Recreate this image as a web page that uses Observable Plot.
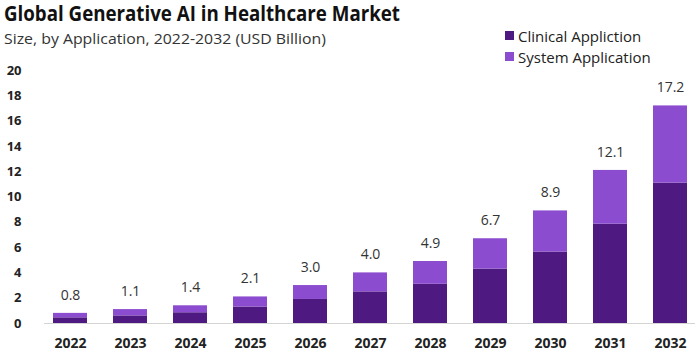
<!DOCTYPE html>
<html><head><meta charset="utf-8">
<script src="https://cdn.jsdelivr.net/npm/d3@7"></script>
<script src="https://cdn.jsdelivr.net/npm/@observablehq/plot@0.6"></script>
<style>
body{margin:0;background:#fff;width:698px;height:357px;overflow:hidden;position:relative;font-family:"Open Sans",sans-serif}
#title{position:absolute;left:4px;top:0px;font-weight:700;font-size:20.5px;line-height:27px;color:#111;white-space:nowrap;transform-origin:left center}
#subtitle{position:absolute;left:4px;top:28px;font-size:15px;line-height:20px;color:#333;white-space:nowrap;transform-origin:left center}
#legend{position:absolute;left:505px;top:25px;font-size:15px;color:#222}
.item{display:flex;align-items:center;height:21px;white-space:nowrap}
.sw{width:9px;height:9px;margin-right:4px;flex:none}
#chart{position:absolute;left:0;top:50px}
</style></head><body>
<div id="title">Global Generative AI in Healthcare Market</div>
<div id="subtitle">Size, by Application, 2022-2032 (USD Billion)</div>
<div id="legend"></div>
<div id="chart"></div>
<script>
const years = ["2022","2023","2024","2025","2026","2027","2028","2029","2030","2031","2032"];
const seriesNames = ["Clinical Appliction","System Application"];
const clinical = [0.45, 0.6, 0.85, 1.3, 1.9, 2.5, 3.1, 4.3, 5.65, 7.85, 11.1];
const system   = [0.35, 0.5, 0.55, 0.8, 1.1, 1.5, 1.8, 2.4, 3.25, 4.25, 6.1];
const totals   = [0.8, 1.1, 1.4, 2.1, 3.0, 4.0, 4.9, 6.7, 8.9, 12.1, 17.2];
const yTicks   = [0, 2, 4, 6, 8, 10, 12, 14, 16, 18, 20];
const colors   = ["#4e1a82", "#8b4ccf"];

function fit(el, target){
  const w = el.getBoundingClientRect().width;
  el.style.transform = `scaleX(${target / w})`;
}
fit(document.getElementById("title"), 396);
fit(document.getElementById("subtitle"), 322);

const legend = document.getElementById("legend");
seriesNames.forEach((s, i) => {
  const it = document.createElement("div"); it.className = "item";
  const sw = document.createElement("div"); sw.className = "sw"; sw.style.background = colors[i];
  const t = document.createElement("span"); t.textContent = s;
  it.appendChild(sw); it.appendChild(t); legend.appendChild(it);
});

const rows = [];
years.forEach((y, i) => {
  rows.push({year: y, series: seriesNames[0], value: clinical[i]});
  rows.push({year: y, series: seriesNames[1], value: system[i]});
});

const plot = Plot.plot({
  width: 698, height: 307,
  marginTop: 20, marginBottom: 34, marginLeft: 44, marginRight: 3,
  style: {fontFamily: "Open Sans", background: "transparent", color: "#222"},
  x: {type: "band", domain: years, paddingInner: 0.44, paddingOuter: 0.1, label: null},
  y: {domain: [0, 20], label: null},
  color: {domain: seriesNames, range: colors},
  marks: [
    Plot.barY(rows, {x: "year", y: "value", fill: "series"}),
    Plot.ruleY([0], {stroke: "#d4d4d4"}),
    Plot.text(totals, {x: years, y: totals, text: totals.map(v => v.toFixed(1)), dy: -18, fontSize: 14, fill: "#333"}),
    Plot.axisX({tickSize: 0, tickPadding: 15, fontSize: 14, fontWeight: 700, fill: "#222"}),
    Plot.axisY({ticks: yTicks, tickSize: 0, tickPadding: 23, fontSize: 13, fontWeight: 700, fill: "#222"})
  ]
});
document.getElementById("chart").appendChild(plot);
</script>
</body></html>
